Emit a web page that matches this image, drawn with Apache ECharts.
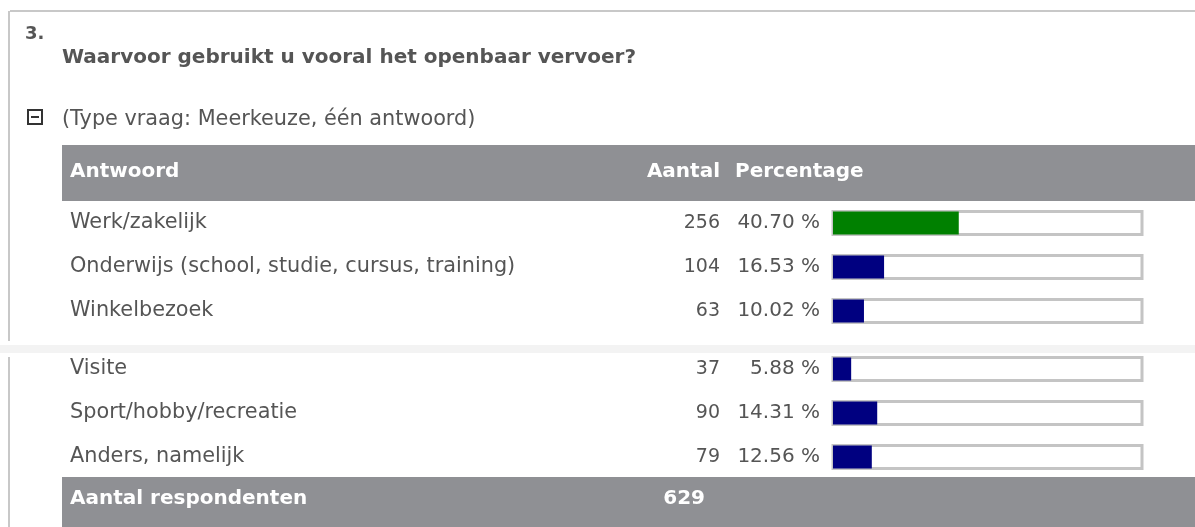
<!DOCTYPE html>
<html>
<head>
<meta charset="utf-8">
<script src="https://cdn.jsdelivr.net/npm/echarts@6/dist/echarts.min.js"></script>
<style>
html, body { margin: 0; padding: 0; background: #fff; }
#chart { width: 1195px; height: 527px; }
</style>
</head>
<body>
<div id="chart"></div>
<script>
// antwoorden, aantallen en percentages
var answers = ['Werk/zakelijk', 'Onderwijs (school, studie, cursus, training)', 'Winkelbezoek',
  'Visite', 'Sport/hobby/recreatie', 'Anders, namelijk']
var counts = [256, 104, 63, 37, 90, 79]
var percents = [40.70, 16.53, 10.02, 5.88, 14.31, 12.56]
var respondents = 629

var FONT = 'DejaVu Sans'
var TXT = '#555'
var HEAD = '#8f9094'
var maxPct = Math.max.apply(null, percents)

var chart = echarts.init(document.getElementById('chart'))

// rows are split in two blocks around the page break
var blocks = [[0, 3], [3, 6]]
var tops = [201, 347]

var grids = []
var xAxes = []
var yAxes = []
var series = []

blocks.forEach(function (b, i) {
  var names = answers.slice(b[0], b[1])
  var cnt = counts.slice(b[0], b[1]).map(String)
  var pct = percents.slice(b[0], b[1])
  grids.push({ left: 833, width: 309, top: tops[i], height: 132 })
  xAxes.push({ gridIndex: i, type: 'value', min: 0, max: 100, show: false })
  var base = { gridIndex: i, type: 'category', inverse: true, position: 'left',
    axisLine: { show: false }, axisTick: { show: false }, splitLine: { show: false } }
  var lbl = { color: TXT, fontFamily: FONT, fontSize: 20 }
  yAxes.push(Object.assign({}, base, { data: names,
    axisLabel: Object.assign({ align: 'left', margin: 763 }, lbl, { fontSize: 20.8 }) }))
  yAxes.push(Object.assign({}, base, { data: cnt,
    axisLabel: Object.assign({ align: 'right', margin: 113 }, lbl, { fontSize: 19 }) }))
  yAxes.push(Object.assign({}, base, { data: pct.map(function (p) { return p.toFixed(2) + ' %' }),
    axisLabel: Object.assign({ align: 'right', margin: 13 }, lbl) }))
  series.push({
    type: 'bar',
    xAxisIndex: i,
    yAxisIndex: i * 3,
    barWidth: 23,
    showBackground: true,
    backgroundStyle: { color: '#fff', borderColor: '#c4c4c4', borderWidth: 3 },
    data: pct.map(function (p) {
      return { value: p, itemStyle: { color: p === maxPct ? '#008000' : '#000080' } }
    }),
    animation: false
  })
})

var option = {
  backgroundColor: '#fff',
  grid: grids,
  xAxis: xAxes,
  yAxis: yAxes,
  series: series,
  graphic: [
    // kader
    { type: 'line', shape: { x1: 10, y1: 11, x2: 1195, y2: 11 }, style: { stroke: '#c8c8c8', lineWidth: 2 } },
    { type: 'line', shape: { x1: 9, y1: 11, x2: 9, y2: 341 }, style: { stroke: '#c8c8c8', lineWidth: 2 } },
    { type: 'rect', shape: { x: 0, y: 345, width: 1195, height: 8 }, style: { fill: '#f3f3f3' } },
    { type: 'line', shape: { x1: 9, y1: 357, x2: 9, y2: 527 }, style: { stroke: '#c8c8c8', lineWidth: 2 } },
    // vraag
    { type: 'text', left: 25, top: 25, style: { text: '3.', font: 'bold 18px ' + FONT, fill: TXT } },
    { type: 'text', left: 62, top: 48, style: { text: 'Waarvoor gebruikt u vooral het openbaar vervoer?', font: 'bold 20px ' + FONT, fill: TXT } },
    { type: 'rect', shape: { x: 28, y: 110, width: 14, height: 14 }, style: { fill: '#fff', stroke: '#333', lineWidth: 2 } },
    { type: 'line', shape: { x1: 31, y1: 117, x2: 39, y2: 117 }, style: { stroke: '#333', lineWidth: 2 } },
    { type: 'text', left: 62, top: 109, style: { text: '(Type vraag: Meerkeuze, één antwoord)', font: '20.8px ' + FONT, fill: TXT } },
    // kop
    { type: 'rect', shape: { x: 62, y: 145, width: 1133, height: 56 }, style: { fill: HEAD } },
    { type: 'text', left: 70, top: 162, style: { text: 'Antwoord', font: 'bold 20px ' + FONT, fill: '#fff' } },
    { type: 'text', right: 1195 - 720, top: 162, style: { text: 'Aantal', font: 'bold 20px ' + FONT, fill: '#fff' } },
    { type: 'text', left: 735, top: 162, style: { text: 'Percentage', font: 'bold 20px ' + FONT, fill: '#fff' } },
    // voet
    { type: 'rect', shape: { x: 62, y: 477, width: 1133, height: 50 }, style: { fill: HEAD } },
    { type: 'text', left: 70, top: 489, style: { text: 'Aantal respondenten', font: 'bold 20px ' + FONT, fill: '#fff' } },
    { type: 'text', right: 1195 - 705, top: 489, style: { text: String(respondents), font: 'bold 20px ' + FONT, fill: '#fff' } }
  ]
}
chart.setOption(option)
</script>
</body>
</html>
